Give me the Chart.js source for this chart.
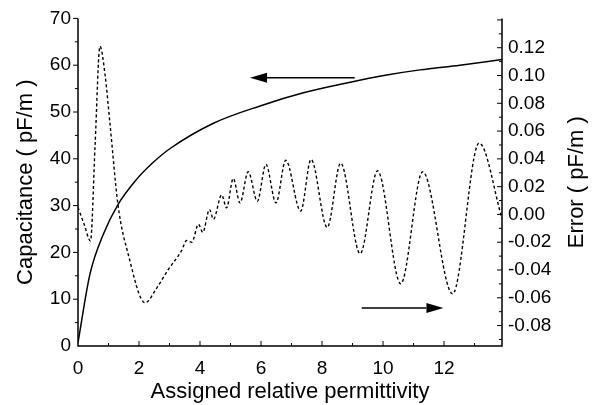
<!DOCTYPE html>
<html>
<head>
<meta charset="utf-8">
<script src="https://cdn.jsdelivr.net/npm/chart.js@4.4.1/dist/chart.umd.min.js"></script>
<style>
  html, body { margin: 0; padding: 0; background: #fff; }
  #chart { display: block; }
</style>
</head>
<body>
<canvas id="chart" width="597" height="405"></canvas>
<script>
(function () {
    'use strict';

    // Capacitance vs. assigned permittivity (left axis)
    var capPerm = [0, 0.39, 0.82, 1.31, 1.92, 2.46, 3.02, 4.44, 5.97, 7.39, 8.81, 10.12, 11.21, 12.52, 13.9];
    var capValues = [0.7, 15.3, 23.7, 30.2, 35.6, 39.2, 42.2, 47.6, 51.3, 54.1, 56.2, 57.9, 59.0, 60.0, 61.2];

    // Error of the computed capacitance (right axis)
    var errPerm = [0, 0.2, 0.41, 0.56, 0.72, 0.89, 1.05, 1.31, 1.65, 2.2, 2.58, 2.95, 3.4, 3.56, 3.73,
        3.95, 4.09, 4.31, 4.44, 4.71, 4.87, 5.09, 5.31, 5.58, 5.88, 6.16, 6.49, 6.81, 7.3, 7.64,
        8.17, 8.61, 9.25, 9.82, 10.58, 11.3, 12.28, 13.15, 13.9];
    var errValues = [0.005, -0.007, -0.019, 0.05, 0.121, 0.1, 0.065, 0.007, -0.029, -0.0636, -0.053, -0.040, -0.0259, -0.0188, -0.020,
        -0.0071, -0.0129, 0.0035, -0.0035, 0.0141, 0.0047, 0.0259, 0.0083, 0.0307, 0.0095, 0.036, 0.0083, 0.039, 0.0024, 0.0396,
        -0.0094, 0.037, -0.0283, 0.0314, -0.0499, 0.0307, -0.0572, 0.0514, -0.003];

    var xTicks = [0, 2, 4, 6, 8, 10, 12];
    var capTicks = [0, 10, 20, 30, 40, 50, 60, 70];
    var errTicks = [-0.08, -0.06, -0.04, -0.02, 0, 0.02, 0.04, 0.06, 0.08, 0.10, 0.12];

    var X_MAX = 13.9;
    var ERR_MIN = -0.0947;
    var ERR_MAX = 0.1411;

    // arrows pointing each curve to its own axis
    var arrows = [
        { scale: 'cap', from: 9.07, to: 5.64, at: 57.3 },
        { scale: 'err', from: 9.3, to: 11.98, at: -0.0673 }
    ];

    var FONT = "'Liberation Sans', Arial, Helvetica, sans-serif";
    Chart.defaults.font.family = FONT;
    Chart.defaults.color = '#000';

    function pairs(xs, ys) {
        return xs.map(function (x, i) { return { x: x, y: ys[i] }; });
    }

    function fixedTicks(list) {
        return function (scale) {
            scale.ticks = list.map(function (v) { return { value: v }; });
        };
    }

    function seg(ctx, x1, y1, x2, y2) {
        ctx.moveTo(x1, y1);
        ctx.lineTo(x2, y2);
    }

    var frame = {
        id: 'frame',
        afterDraw: function (chart) {
            var ctx = chart.ctx;
            var a = chart.chartArea;
            var sx = chart.scales.x, sc = chart.scales.cap, se = chart.scales.err;
            var v, p;

            ctx.save();
            ctx.strokeStyle = '#000';
            ctx.lineWidth = 1.5;
            ctx.beginPath();
            seg(ctx, a.left, a.top, a.left, a.bottom);
            seg(ctx, a.left - 0.75, a.bottom, a.right + 0.75, a.bottom);
            seg(ctx, a.right, a.bottom, a.right, a.top);
            ctx.stroke();

            ctx.lineWidth = 1;
            ctx.beginPath();
            // x ticks point up into the plot
            for (v = 1; v < X_MAX; v += 1) {
                p = sx.getPixelForValue(v);
                seg(ctx, p, a.bottom, p, a.bottom - (v % 2 ? 3 : 5));
            }
            // capacitance ticks point outwards
            for (v = 5; v <= 70; v += 5) {
                p = sc.getPixelForValue(v);
                seg(ctx, a.left, p, a.left - (v % 10 ? 3 : 5), p);
            }
            // error ticks point into the plot
            for (v = -9; v <= 14; v += 1) {
                p = se.getPixelForValue(v / 100);
                seg(ctx, a.right, p, a.right - (v % 2 ? 3 : 5), p);
            }
            ctx.stroke();

            // right axis title, reading bottom to top
            ctx.fillStyle = '#000';
            ctx.font = '22px ' + FONT;
            ctx.textAlign = 'center';
            ctx.textBaseline = 'middle';
            ctx.translate(577, (a.top + a.bottom) / 2);
            ctx.rotate(-Math.PI / 2);
            ctx.fillText('Error ( pF/m )', 0, 0);
            ctx.restore();
        }
    };

    var arrowMarks = {
        id: 'arrowMarks',
        afterDatasetsDraw: function (chart) {
            var ctx = chart.ctx;
            var sx = chart.scales.x;
            ctx.save();
            ctx.strokeStyle = '#000';
            ctx.fillStyle = '#000';
            ctx.lineWidth = 1.5;
            arrows.forEach(function (ar) {
                var y = chart.scales[ar.scale].getPixelForValue(ar.at);
                var x1 = sx.getPixelForValue(ar.from);
                var x2 = sx.getPixelForValue(ar.to);
                var dir = x2 > x1 ? 1 : -1;
                var head = 17;
                ctx.beginPath();
                ctx.moveTo(x1, y);
                ctx.lineTo(x2 - dir * head, y);
                ctx.stroke();
                ctx.beginPath();
                ctx.moveTo(x2, y);
                ctx.lineTo(x2 - dir * head, y - 5);
                ctx.lineTo(x2 - dir * head, y + 5);
                ctx.closePath();
                ctx.fill();
            });
            ctx.restore();
        }
    };

    new Chart(document.getElementById('chart'), {
        type: 'line',
        data: {
            datasets: [{
                label: 'Capacitance',
                data: pairs(capPerm, capValues),
                yAxisID: 'cap',
                borderColor: '#000',
                borderWidth: 1.5,
                pointRadius: 0,
                cubicInterpolationMode: 'monotone',
                fill: false
            }, {
                label: 'Error',
                data: pairs(errPerm, errValues),
                yAxisID: 'err',
                borderColor: '#000',
                borderWidth: 1.4,
                borderDash: [3, 2.5],
                pointRadius: 0,
                cubicInterpolationMode: 'monotone',
                fill: false
            }]
        },
        options: {
            responsive: false,
            devicePixelRatio: 1,
            animation: false,
            layout: { padding: { top: 12, left: 0, right: 0, bottom: 0 } },
            plugins: {
                legend: { display: false },
                tooltip: { enabled: false }
            },
            scales: {
                x: {
                    type: 'linear',
                    min: 0,
                    max: X_MAX,
                    grid: { display: false, drawTicks: false },
                    border: { display: false },
                    afterBuildTicks: fixedTicks(xTicks),
                    afterFit: function (s) { s.height = 59; },
                    ticks: { color: '#000', font: { size: 19 }, padding: 11, maxRotation: 0, autoSkip: false },
                    title: {
                        display: true,
                        text: 'Assigned relative permittivity',
                        color: '#000',
                        font: { size: 22 },
                        padding: { top: 0, bottom: 0 }
                    }
                },
                cap: {
                    type: 'linear',
                    position: 'left',
                    min: 0,
                    max: 70,
                    grid: { display: false, drawTicks: false },
                    border: { display: false },
                    afterBuildTicks: fixedTicks(capTicks),
                    afterFit: function (s) { s.width = 78; },
                    ticks: { color: '#000', font: { size: 19 }, padding: 7, autoSkip: false },
                    title: {
                        display: true,
                        text: 'Capacitance ( pF/m )',
                        color: '#000',
                        font: { size: 22 },
                        padding: { top: 13, bottom: 0 }
                    }
                },
                err: {
                    type: 'linear',
                    position: 'right',
                    min: ERR_MIN,
                    max: ERR_MAX,
                    grid: { display: false, drawTicks: false },
                    border: { display: false },
                    afterBuildTicks: fixedTicks(errTicks),
                    afterFit: function (s) { s.width = 95; },
                    ticks: {
                        color: '#000',
                        font: { size: 19 },
                        padding: 6,
                        autoSkip: false,
                        callback: function (v) { return Number(v).toFixed(2); }
                    }
                }
            }
        },
        plugins: [frame, arrowMarks]
    });
})();
</script>
</body>
</html>
